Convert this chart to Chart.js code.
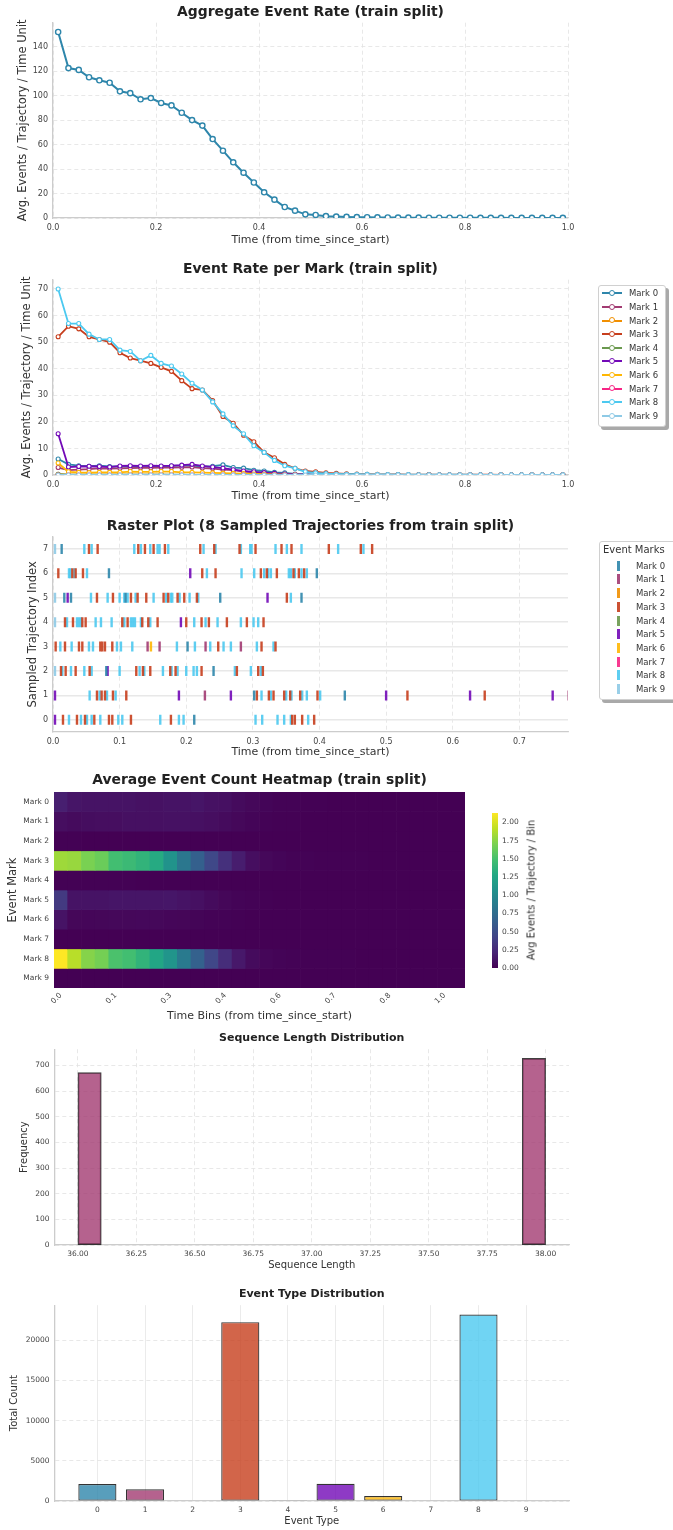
<!DOCTYPE html>
<html>
<head>
<meta charset="utf-8">
<title>Event dataset overview (train split)</title>
<script src="https://cdn.jsdelivr.net/npm/chart.js@4.4.1/dist/chart.umd.min.js"></script>
<style>
  body { margin: 0; background: #fff; }
  #page { position: relative; width: 673px; height: 1530px; overflow: hidden; font-family: "DejaVu Sans", sans-serif; color: #333; }
  #page canvas { position: absolute; left: 0; }
  .legend { position: absolute; background: #fff; border: 1px solid #d0d0d0; border-radius: 3px; box-shadow: 3px 3px 0 #a9a9a9; z-index: 2; }
  .legend .item { position: absolute; left: 0; height: 12px; width: 100%; font-size: 8.5px; line-height: 12px; white-space: nowrap; }
  .legend .ln { position: absolute; left: 3px; top: 5px; width: 20px; height: 2.2px; }
  .legend .dot { position: absolute; left: 9.8px; top: 2.9px; width: 4px; height: 4px; border: 1.2px solid; border-radius: 50%; background: #fff; }
  .legend .bar { position: absolute; left: 17px; top: 1px; width: 2.5px; height: 10px; }
  .legend .tx { position: absolute; top: 0; }
  .legend .head { position: absolute; left: 3px; top: 1px; font-size: 10px; line-height: 14px; white-space: nowrap; }
  #cbLabel { position: absolute; left: 531px; top: 890px; font-size: 10px; white-space: nowrap; transform: translate(-50%, -50%) rotate(-90deg); color: #333; }
</style>
</head>
<body>
<div id="page">
  <canvas id="aggChart" width="673" height="250" style="top:0px"></canvas>
  <canvas id="markChart" width="673" height="250" style="top:257px"></canvas>
  <div id="markLegend" class="legend" style="left:598px;top:285px;width:66px;height:140px"></div>
  <canvas id="rasterChart" width="673" height="250" style="top:514px"></canvas>
  <div id="rasterLegend" class="legend" style="left:599px;top:541px;width:80px;height:157px"></div>
  <canvas id="heatChart" width="673" height="260" style="top:768px"></canvas>
  <canvas id="cbChart" width="60" height="200" style="top:790px;left:470px"></canvas>
  <div id="cbLabel">Avg Events / Trajectory / Bin</div>
  <canvas id="lenChart" width="673" height="250" style="top:1027px"></canvas>
  <canvas id="typeChart" width="673" height="247" style="top:1283px"></canvas>
</div>
<script>
// ---- data ----
const markNames = ['Mark 0', 'Mark 1', 'Mark 2', 'Mark 3', 'Mark 4', 'Mark 5', 'Mark 6', 'Mark 7', 'Mark 8', 'Mark 9'];
const markColors = ['#2E86AB', '#A23B72', '#F18F01', '#C73E1D', '#6A994E', '#7209B7', '#FFB703', '#F72585', '#4CC9F0', '#8ECAE6'];

const timePoints = [0.01, 0.03, 0.05, 0.07, 0.09, 0.11, 0.13, 0.15, 0.17, 0.19, 0.21, 0.23, 0.25, 0.27, 0.29, 0.31, 0.33, 0.35, 0.37, 0.39,
  0.41, 0.43, 0.45, 0.47, 0.49, 0.51, 0.53, 0.55, 0.57, 0.59, 0.61, 0.63, 0.65, 0.67, 0.69, 0.71, 0.73, 0.75, 0.77, 0.79,
  0.81, 0.83, 0.85, 0.87, 0.89, 0.91, 0.93, 0.95, 0.97, 0.99];

const aggregateRate = [152, 122.5, 121, 115, 112.5, 110.5, 103.5, 102, 97, 98, 94, 92, 86, 80, 75.5, 64.5, 55, 45.5, 37, 29,
  21, 15, 9, 6, 3, 2.5, 1.5, 1.2, 0.9, 0.7, 0.6, 0.5, 0.4, 0.35, 0.3, 0.3, 0.25, 0.25, 0.2, 0.2,
  0.2, 0.15, 0.15, 0.15, 0.1, 0.1, 0.1, 0.1, 0.1, 0.1];

const rateMark0 = [6, 4, 3.5, 3.3, 3.5, 3.2, 3.2, 3.2, 3.0, 3.0, 3.2, 3.4, 3.5, 3.5, 3.2, 3.3, 3.8, 2.8, 2.6, 1.8,
  1.5, 1.0, 0.8, 0.4, 0.3, 0.15, 0.1, 0.05, 0.05, 0.05, 0.02, 0.02, 0.02, 0, 0, 0, 0, 0, 0, 0, 0, 0, 0, 0, 0, 0, 0, 0, 0, 0];
const rateMark1 = [2.8, 1.8, 2.0, 2.2, 2.5, 2.4, 2.5, 2.6, 2.7, 2.7, 2.8, 2.8, 2.9, 3.0, 2.6, 2.4, 2.0, 1.8, 1.3, 1.0,
  0.7, 0.5, 0.3, 0.2, 0.1, 0.05, 0.05, 0.02, 0.02, 0, 0, 0, 0, 0, 0, 0, 0, 0, 0, 0, 0, 0, 0, 0, 0, 0, 0, 0, 0, 0];
const rateMark2 = [0.3, 0.15, 0.1, 0.1, 0.1, 0.1, 0.1, 0.1, 0.1, 0.1, 0.1, 0.05, 0.05, 0.05, 0.05, 0.05, 0.05, 0.05, 0, 0,
  0, 0, 0, 0, 0, 0, 0, 0, 0, 0, 0, 0, 0, 0, 0, 0, 0, 0, 0, 0, 0, 0, 0, 0, 0, 0, 0, 0, 0, 0];
const rateMark3 = [52, 56, 55, 52, 51, 50, 46, 44, 43, 42, 40.5, 39, 35.5, 32.5, 32, 28, 22, 19.5, 15, 12.5,
  8.5, 6.5, 4, 2.5, 1.5, 1.2, 0.8, 0.6, 0.45, 0.35, 0.3, 0.25, 0.2, 0.2, 0.15, 0.15, 0.15, 0.1, 0.1, 0.1,
  0.1, 0.1, 0.1, 0.05, 0.05, 0.05, 0.05, 0.05, 0.05, 0.05];
const rateMark4 = [0.3, 0.15, 0.15, 0.15, 0.1, 0.1, 0.1, 0.1, 0.1, 0.1, 0.1, 0.1, 0.1, 0.05, 0.05, 0.05, 0.05, 0.05, 0.05, 0,
  0, 0, 0, 0, 0, 0, 0, 0, 0, 0, 0, 0, 0, 0, 0, 0, 0, 0, 0, 0, 0, 0, 0, 0, 0, 0, 0, 0, 0, 0];
const rateMark5 = [15.5, 3, 3.2, 3.3, 3.2, 3.0, 3.4, 3.5, 3.4, 3.5, 3.4, 3.5, 3.7, 4.0, 3.4, 3.0, 2.6, 2.0, 1.5, 1.2,
  0.9, 0.6, 0.4, 0.2, 0.1, 0.05, 0.05, 0, 0, 0, 0, 0, 0, 0, 0, 0, 0, 0, 0, 0, 0, 0, 0, 0, 0, 0, 0, 0, 0, 0];
const rateMark6 = [4.5, 1.2, 1.0, 0.9, 1.0, 1.0, 1.0, 1.3, 1.2, 1.2, 1.3, 1.3, 1.0, 1.0, 0.9, 0.8, 0.7, 0.6, 0.5, 0.4,
  0.3, 0.2, 0.1, 0.05, 0.02, 0, 0, 0, 0, 0, 0, 0, 0, 0, 0, 0, 0, 0, 0, 0, 0, 0, 0, 0, 0, 0, 0, 0, 0, 0];
const rateMark7 = [0, 0, 0, 0, 0, 0, 0, 0, 0, 0, 0, 0, 0, 0, 0, 0, 0, 0, 0, 0, 0, 0, 0, 0, 0,
  0, 0, 0, 0, 0, 0, 0, 0, 0, 0, 0, 0, 0, 0, 0, 0, 0, 0, 0, 0, 0, 0, 0, 0, 0];
const rateMark8 = [70, 57, 57, 53, 51, 51, 47, 46.5, 43, 45, 42, 41, 38, 34.5, 32, 27.5, 23, 18.5, 15.5, 11,
  8.5, 5.5, 3.5, 2.5, 1.2, 0.8, 0.5, 0.4, 0.3, 0.3, 0.25, 0.2, 0.2, 0.15, 0.15, 0.1, 0.1, 0.1, 0.1, 0.1,
  0.1, 0.05, 0.05, 0.05, 0.05, 0.05, 0.05, 0.05, 0.05, 0.05];
const rateMark9 = [0, 0, 0, 0, 0, 0, 0, 0, 0, 0, 0, 0, 0, 0, 0, 0, 0, 0, 0, 0, 0, 0, 0, 0, 0,
  0, 0, 0, 0, 0, 0, 0, 0, 0, 0, 0, 0, 0, 0, 0, 0, 0, 0, 0, 0, 0, 0, 0, 0, 0];

// raster: [time, mark] per sampled trajectory
const traj0 = [[0.003, 5], [0.015, 3], [0.024, 8], [0.036, 3], [0.042, 8], [0.048, 3], [0.051, 8], [0.058, 8], [0.062, 3], [0.071, 8],
  [0.084, 3], [0.089, 3], [0.098, 8], [0.104, 8], [0.117, 3], [0.161, 8], [0.177, 3], [0.189, 8], [0.196, 8], [0.212, 0],
  [0.304, 8], [0.314, 8], [0.337, 8], [0.347, 8], [0.357, 8], [0.359, 3], [0.363, 3], [0.374, 3], [0.383, 8], [0.392, 3]];
const traj1 = [[0.003, 5], [0.055, 8], [0.066, 3], [0.070, 8], [0.073, 3], [0.078, 3], [0.081, 8], [0.090, 3], [0.094, 8], [0.110, 3],
  [0.189, 5], [0.228, 1], [0.267, 5], [0.302, 0], [0.306, 3], [0.313, 8], [0.324, 3], [0.327, 8], [0.331, 3], [0.347, 3],
  [0.350, 8], [0.356, 3], [0.358, 8], [0.371, 3], [0.374, 8], [0.381, 8], [0.397, 3], [0.401, 8], [0.438, 0], [0.500, 5],
  [0.532, 3], [0.626, 5], [0.648, 3], [0.750, 5], [0.774, 1]];
const traj2 = [[0.003, 9], [0.012, 3], [0.014, 8], [0.019, 3], [0.027, 8], [0.034, 3], [0.047, 8], [0.055, 3], [0.058, 8], [0.080, 0],
  [0.082, 5], [0.100, 8], [0.125, 3], [0.130, 8], [0.135, 3], [0.137, 8], [0.146, 3], [0.165, 8], [0.176, 3], [0.178, 8],
  [0.184, 3], [0.187, 8], [0.200, 8], [0.211, 8], [0.216, 8], [0.223, 3], [0.241, 0], [0.273, 8], [0.276, 3], [0.297, 8],
  [0.308, 3], [0.312, 8], [0.315, 3]];
const traj3 = [[0.004, 3], [0.011, 8], [0.018, 3], [0.028, 8], [0.039, 3], [0.044, 3], [0.054, 8], [0.060, 8], [0.071, 3], [0.074, 3],
  [0.078, 3], [0.089, 3], [0.096, 8], [0.102, 8], [0.119, 8], [0.142, 1], [0.147, 6], [0.160, 1], [0.186, 8], [0.202, 0],
  [0.213, 8], [0.229, 1], [0.236, 8], [0.248, 3], [0.256, 8], [0.267, 8], [0.282, 1], [0.306, 8], [0.313, 3], [0.331, 8],
  [0.334, 3]];
const traj4 = [[0.003, 9], [0.018, 3], [0.021, 8], [0.030, 3], [0.036, 8], [0.039, 8], [0.042, 8], [0.044, 3], [0.049, 3], [0.064, 8],
  [0.072, 8], [0.088, 8], [0.104, 3], [0.107, 8], [0.112, 3], [0.117, 8], [0.120, 8], [0.123, 8], [0.132, 8], [0.134, 3],
  [0.143, 3], [0.146, 8], [0.157, 3], [0.192, 5], [0.200, 3], [0.212, 8], [0.223, 3], [0.229, 8], [0.234, 3], [0.247, 8],
  [0.261, 3], [0.282, 8], [0.291, 3], [0.301, 8], [0.308, 8], [0.316, 3]];
const traj5 = [[0.003, 9], [0.017, 0], [0.022, 5], [0.027, 0], [0.057, 8], [0.066, 3], [0.082, 8], [0.090, 3], [0.100, 8], [0.107, 8],
  [0.109, 0], [0.112, 8], [0.117, 3], [0.124, 8], [0.127, 3], [0.140, 3], [0.151, 8], [0.166, 3], [0.170, 8], [0.173, 3],
  [0.177, 8], [0.179, 8], [0.187, 3], [0.190, 8], [0.197, 3], [0.205, 8], [0.216, 3], [0.218, 8], [0.251, 0], [0.322, 5],
  [0.351, 3], [0.357, 8], [0.373, 0]];
const traj6 = [[0.008, 3], [0.024, 8], [0.026, 8], [0.029, 3], [0.032, 8], [0.034, 3], [0.045, 3], [0.051, 8], [0.084, 0], [0.206, 5],
  [0.224, 3], [0.231, 8], [0.244, 3], [0.283, 8], [0.302, 8], [0.312, 3], [0.317, 8], [0.321, 3], [0.323, 8], [0.327, 8],
  [0.336, 3], [0.354, 8], [0.357, 8], [0.361, 3], [0.363, 8], [0.369, 3], [0.373, 8], [0.377, 3], [0.381, 8], [0.396, 0]];
const traj7 = [[0.003, 9], [0.013, 0], [0.047, 8], [0.054, 3], [0.058, 8], [0.067, 3], [0.122, 8], [0.128, 3], [0.132, 8], [0.138, 3],
  [0.146, 8], [0.151, 3], [0.157, 8], [0.160, 8], [0.168, 3], [0.173, 8], [0.221, 3], [0.226, 8], [0.242, 3], [0.244, 8],
  [0.280, 3], [0.282, 8], [0.296, 8], [0.298, 8], [0.304, 3], [0.334, 8], [0.343, 3], [0.351, 8], [0.358, 3], [0.373, 8],
  [0.414, 3], [0.428, 8], [0.462, 3], [0.466, 8], [0.479, 3]];

// heatmap: avg events per trajectory per bin (30 time bins)
const heat0 = [0.18, 0.12, 0.11, 0.11, 0.11, 0.11, 0.10, 0.10, 0.11, 0.11, 0.12, 0.10, 0.09, 0.06, 0.04, 0.025, 0.015, 0.01, 0.005, 0.004,
  0.003, 0.002, 0.002, 0.001, 0.001, 0.001, 0, 0, 0, 0];
const heat1 = [0.08, 0.06, 0.07, 0.08, 0.08, 0.09, 0.09, 0.09, 0.10, 0.10, 0.09, 0.08, 0.06, 0.04, 0.025, 0.015, 0.008, 0.005, 0.003, 0.002,
  0.001, 0.001, 0, 0, 0, 0, 0, 0, 0, 0];
const heat2 = [0.008, 0.004, 0.003, 0.003, 0.003, 0.003, 0.002, 0.002, 0.002, 0.002, 0.002, 0.001, 0.001, 0, 0, 0, 0, 0, 0, 0,
  0, 0, 0, 0, 0, 0, 0, 0, 0, 0];
const heat3 = [1.82, 1.80, 1.70, 1.64, 1.48, 1.44, 1.38, 1.30, 1.08, 0.84, 0.65, 0.46, 0.29, 0.17, 0.08, 0.04, 0.025, 0.015, 0.01, 0.008,
  0.006, 0.005, 0.004, 0.003, 0.003, 0.002, 0.002, 0.002, 0.001, 0.001];
const heat4 = [0.008, 0.005, 0.004, 0.004, 0.004, 0.004, 0.003, 0.003, 0.003, 0.003, 0.002, 0.002, 0.001, 0.001, 0, 0, 0, 0, 0, 0,
  0, 0, 0, 0, 0, 0, 0, 0, 0, 0];
const heat5 = [0.36, 0.11, 0.11, 0.11, 0.12, 0.12, 0.12, 0.12, 0.13, 0.11, 0.09, 0.06, 0.035, 0.02, 0.01, 0.005, 0.003, 0.002, 0.001, 0,
  0, 0, 0, 0, 0, 0, 0, 0, 0, 0];
const heat6 = [0.11, 0.035, 0.032, 0.035, 0.04, 0.04, 0.042, 0.04, 0.033, 0.028, 0.022, 0.015, 0.01, 0.006, 0.003, 0.002, 0.001, 0, 0, 0,
  0, 0, 0, 0, 0, 0, 0, 0, 0, 0];
const heat7 = [0, 0, 0, 0, 0, 0, 0, 0, 0, 0, 0, 0, 0, 0, 0, 0, 0, 0, 0, 0, 0, 0, 0, 0, 0, 0, 0, 0, 0, 0];
const heat8 = [2.13, 1.90, 1.74, 1.68, 1.52, 1.48, 1.38, 1.26, 1.10, 0.87, 0.66, 0.45, 0.27, 0.14, 0.06, 0.03, 0.02, 0.012, 0.008, 0.006,
  0.005, 0.004, 0.003, 0.003, 0.002, 0.002, 0.002, 0.002, 0.001, 0.001];
const heat9 = [0, 0, 0, 0, 0, 0, 0, 0, 0, 0, 0, 0, 0, 0, 0, 0, 0, 0, 0, 0, 0, 0, 0, 0, 0, 0, 0, 0, 0, 0];
const heatTickLabels = ['0.0', '0.1', '0.3', '0.4', '0.6', '0.7', '0.8', '1.0'];   // every 4th bin

// sequence length histogram (20 bins of 0.1 between 36 and 38)
const lengthBinEdges = [36.0, 36.1, 36.2, 36.3, 36.4, 36.5, 36.6, 36.7, 36.8, 36.9, 37.0, 37.1, 37.2, 37.3, 37.4, 37.5, 37.6, 37.7, 37.8, 37.9];
const lengthCounts = [672, 0, 0, 0, 0, 0, 0, 0, 0, 0, 0, 0, 0, 0, 0, 0, 0, 0, 0, 727];
const lengthBinWidth = 0.1;

// event type totals
const eventTypes = [0, 1, 2, 3, 4, 5, 6, 7, 8, 9];
const eventCounts = [2100, 1450, 60, 22250, 100, 2150, 630, 0, 23200, 0];

// ---- helpers ----
Chart.defaults.font.family = '"DejaVu Sans", sans-serif';
Chart.defaults.color = '#444';
Chart.defaults.animation = false;
Chart.defaults.responsive = false;
Chart.defaults.events = [];
Chart.defaults.plugins.legend.display = false;
Chart.defaults.plugins.tooltip.enabled = false;

const GRID = '#e2e2e2', SPINE = '#cccccc';

function alpha(hex, a) {
  const n = parseInt(hex.slice(1), 16);
  return `rgba(${n >> 16},${(n >> 8) & 255},${n & 255},${a})`;
}

const viridisStops = ['#440154', '#482475', '#414487', '#355f8d', '#2a788e', '#21918c', '#22a884', '#44bf70', '#7ad151', '#bddf26', '#fde725'];
function viridis(f) {
  f = Math.max(0, Math.min(1, f));
  const p = f * 10, i = Math.min(9, Math.floor(p)), t = p - i;
  const a = parseInt(viridisStops[i].slice(1), 16), b = parseInt(viridisStops[i + 1].slice(1), 16);
  const mix = s => Math.round(((a >> s) & 255) * (1 - t) + ((b >> s) & 255) * t);
  return `rgb(${mix(16)},${mix(8)},${mix(0)})`;
}

function titleCfg(text, size, pad) {
  return { display: true, text, fullSize: false, color: '#222', font: { size, weight: 'bold' }, padding: pad || { top: 4, bottom: 2 } };
}

// ticks every `step` inside [min, max], like matplotlib's locator
function stepTicks(min, max, step) {
  return s => {
    const out = [];
    for (let v = Math.ceil(min / step - 1e-9) * step; v <= max + 1e-9; v += step) out.push({ value: +v.toFixed(6) });
    s.ticks = out;
  };
}

function linAxis(o) {
  const ax = {
    type: 'linear', min: o.min, max: o.max, offset: false,
    grid: { display: o.grid !== false, color: o.gridColor || GRID, lineWidth: o.gridWidth || 0.8, drawTicks: false, offset: false },
    border: { display: true, color: SPINE, width: 1.3, dash: o.dash || [4, 3] },
    afterBuildTicks: stepTicks(o.min, o.max, o.step),
    ticks: { padding: o.tickPad || 5, font: { size: o.tickFont || 8 }, color: '#444', callback: o.fmt || (v => String(v)) },
    title: { display: true, text: o.title, color: '#333', font: { size: o.titleFont || 11 }, padding: o.titlePad || 4 },
    afterFit: o.fit
  };
  return ax;
}

// 1. aggregate rate
new Chart(document.getElementById('aggChart'), {
  type: 'line',
  data: {
    datasets: [{
      data: timePoints.map((t, i) => ({ x: t, y: aggregateRate[i] })),
      borderColor: '#2E86AB', borderWidth: 2,
      pointRadius: 2.6, pointBackgroundColor: '#fff', pointBorderColor: '#2E86AB', pointBorderWidth: 1.4
    }]
  },
  options: {
    layout: { padding: { left: 10, right: 105, top: 0, bottom: 0 } },
    plugins: { title: titleCfg('Aggregate Event Rate (train split)', 13.9) },
    scales: {
      x: linAxis({ min: 0, max: 1, step: 0.2, fmt: v => v.toFixed(1), title: 'Time (from time_since_start)',
        titlePad: { top: 0, bottom: 3.4 }, fit: s => { s.height = 32; } }),
      y: linAxis({ min: 0, max: 159.6, step: 20, title: 'Avg. Events / Trajectory / Time Unit', titleFont: 11.5,
        titlePad: { top: 6, bottom: 0 }, fit: s => { s.width = 43; } })
    }
  }
});

// 2. rate per mark
const markRates = [rateMark0, rateMark1, rateMark2, rateMark3, rateMark4, rateMark5, rateMark6, rateMark7, rateMark8, rateMark9];
new Chart(document.getElementById('markChart'), {
  type: 'line',
  data: {
    datasets: markRates.map((rates, m) => ({
      label: markNames[m],
      data: timePoints.map((t, i) => ({ x: t, y: rates[i] })),
      order: markNames.length - 1 - m,
      borderColor: markColors[m], borderWidth: 1.8,
      pointRadius: 2, pointBackgroundColor: '#fff', pointBorderColor: markColors[m], pointBorderWidth: 1.1
    }))
  },
  options: {
    layout: { padding: { left: 14, right: 105, top: 0, bottom: 0 } },
    plugins: { title: titleCfg('Event Rate per Mark (train split)', 13.9) },
    scales: {
      x: linAxis({ min: 0, max: 1, step: 0.2, fmt: v => v.toFixed(1), title: 'Time (from time_since_start)',
        titlePad: { top: 0, bottom: 4.4 }, fit: s => { s.height = 32; } }),
      y: linAxis({ min: 0, max: 73.5, step: 10, title: 'Avg. Events / Trajectory / Time Unit', titleFont: 11.5,
        titlePad: { top: 6, bottom: 0 }, fit: s => { s.width = 39; } })
    }
  }
});

const markLegend = document.getElementById('markLegend');
markNames.forEach((name, i) => {
  const it = document.createElement('div');
  it.className = 'item';
  it.style.top = (1.3 + i * 13.6) + 'px';
  it.innerHTML = `<span class="ln" style="background:${markColors[i]}"></span>` +
    `<span class="dot" style="border-color:${markColors[i]}"></span><span class="tx" style="left:30px">${name}</span>`;
  markLegend.appendChild(it);
});

// 3. raster
const trajectories = [traj0, traj1, traj2, traj3, traj4, traj5, traj6, traj7];
new Chart(document.getElementById('rasterChart'), {
  type: 'scatter',
  data: {
    datasets: markNames.map((name, m) => ({
      label: name,
      data: trajectories.flatMap((tr, row) => tr.filter(e => e[1] === m).map(e => ({ x: e[0], y: row }))),
      pointStyle: 'line', pointRotation: 90, pointRadius: 5,
      pointBorderWidth: 2.4, pointBorderColor: alpha(markColors[m], 0.9)
    }))
  },
  options: {
    layout: { padding: { left: 20, right: 105, top: 0, bottom: 0 } },
    plugins: { title: titleCfg('Raster Plot (8 Sampled Trajectories from train split)', 13.9) },
    scales: {
      x: linAxis({ min: 0, max: 0.773, step: 0.1, fmt: v => v.toFixed(1), title: 'Time (from time_since_start)',
        titlePad: { top: 0, bottom: 5 }, fit: s => { s.height = 32; } }),
      y: linAxis({ min: -0.5, max: 7.5, step: 1, dash: [], gridColor: '#e8e8e8', gridWidth: 1.4, title: 'Sampled Trajectory Index',
        titleFont: 11.5, titlePad: { top: 6, bottom: 0 }, fit: s => { s.width = 33; } })
    }
  }
});

const rasterLegend = document.getElementById('rasterLegend');
rasterLegend.innerHTML = '<div class="head">Event Marks</div>';
markNames.forEach((name, i) => {
  const it = document.createElement('div');
  it.className = 'item';
  it.style.top = (17.7 + i * 13.7) + 'px';
  it.innerHTML = `<span class="bar" style="background:${alpha(markColors[i], 0.9)}"></span><span class="tx" style="left:36px">${name}</span>`;
  rasterLegend.appendChild(it);
});

// 4. heatmap
const heatRows = [heat0, heat1, heat2, heat3, heat4, heat5, heat6, heat7, heat8, heat9];
const heatMax = Math.max(...heatRows.flat());
new Chart(document.getElementById('heatChart'), {
  type: 'bar',
  data: {
    labels: heat0.map((_, i) => i),
    datasets: heatRows.map((row, m) => ({
      label: markNames[m],
      data: row.map(() => 1),
      backgroundColor: row.map(v => viridis(v / heatMax)),
      borderWidth: 0, barPercentage: 1, categoryPercentage: 1
    }))
  },
  options: {
    layout: { padding: { left: 2, right: 208, top: 0, bottom: 0 } },
    plugins: { title: titleCfg('Average Event Count Heatmap (train split)', 13.9, { top: 4, bottom: 3.3 }) },
    scales: {
      x: {
        stacked: true, grid: { display: false, drawTicks: false }, border: { display: false },
        ticks: { autoSkip: false, maxRotation: 45, minRotation: 45, padding: 3, font: { size: 7.5 }, color: '#444',
          callback: (v, i) => (i % 4 === 0 ? heatTickLabels[i / 4] : '') },
        title: { display: true, text: 'Time Bins (from time_since_start)', color: '#333', font: { size: 11 }, padding: { top: 0, bottom: 5.4 } },
        afterFit: s => { s.height = 40; }
      },
      y: {
        type: 'linear', stacked: true, reverse: true, min: 0, max: 10,
        grid: { display: false, drawTicks: false }, border: { display: false },
        afterBuildTicks: s => { s.ticks = markNames.map((_, i) => ({ value: i + 0.5 })); },
        ticks: { padding: 5, font: { size: 7.5 }, color: '#444', callback: v => markNames[Math.floor(v)] },
        title: { display: true, text: 'Event Mark', color: '#333', font: { size: 11.5 }, padding: { top: 4.4, bottom: 0 } },
        afterFit: s => { s.width = 52; }
      }
    }
  }
});

// colorbar
new Chart(document.getElementById('cbChart'), {
  type: 'bar',
  data: {
    labels: [''],
    datasets: [{
      data: [heatMax], borderWidth: 0, barPercentage: 1, categoryPercentage: 1,
      backgroundColor: c => {
        const a = c.chart.chartArea;
        if (!a) return viridisStops[5];
        const g = c.chart.ctx.createLinearGradient(0, a.bottom, 0, a.top);
        viridisStops.forEach((col, k) => g.addColorStop(k / 10, col));
        return g;
      }
    }]
  },
  options: {
    layout: { padding: { left: 22, right: 0, top: 23, bottom: 22 } },
    scales: {
      x: { display: false },
      y: {
        position: 'right', min: 0, max: heatMax, grid: { display: false, drawTicks: false }, border: { display: false },
        afterBuildTicks: stepTicks(0, heatMax, 0.25),
        ticks: { padding: 4, font: { size: 7.5 }, color: '#444', callback: v => v.toFixed(2) },
        afterFit: s => { s.width = 32; }
      }
    }
  }
});

// 5. sequence length histogram
new Chart(document.getElementById('lenChart'), {
  type: 'bar',
  data: {
    datasets: [{
      data: lengthBinEdges.map((e, i) => ({ x: e + lengthBinWidth / 2, y: lengthCounts[i] })),
      backgroundColor: alpha('#A23B72', 0.8), borderColor: 'rgba(0,0,0,0.75)', borderWidth: 1.2, borderSkipped: false,
      barPercentage: 1, categoryPercentage: 1
    }]
  },
  options: {
    layout: { padding: { left: 14, right: 104, top: 0, bottom: 0 } },
    plugins: { title: titleCfg('Sequence Length Distribution', 11, { top: 5, bottom: 4 }) },
    scales: {
      x: linAxis({ min: 35.9, max: 38.1, step: 0.25, fmt: v => v.toFixed(2), tickFont: 7.5, title: 'Sequence Length', titleFont: 10,
        titlePad: { top: 0, bottom: 6 }, fit: s => { s.height = 32; } }),
      y: linAxis({ min: 0, max: 763, step: 100, tickFont: 7.5, title: 'Frequency', titleFont: 10,
        titlePad: { top: 4, bottom: 0 }, fit: s => { s.width = 40.5; } })
    }
  }
});

// 6. event type distribution
new Chart(document.getElementById('typeChart'), {
  type: 'bar',
  data: {
    datasets: [{
      data: eventTypes.map((t, i) => ({ x: t, y: eventCounts[i] })),
      backgroundColor: eventTypes.map(t => alpha(markColors[t], 0.8)),
      borderColor: 'rgba(0,0,0,0.8)', borderWidth: 1.2, borderSkipped: false,
      barPercentage: 1, categoryPercentage: 0.8
    }]
  },
  options: {
    layout: { padding: { left: 4, right: 104, top: 0, bottom: 0 } },
    plugins: { title: titleCfg('Event Type Distribution', 11, { top: 5, bottom: 4 }) },
    scales: {
      x: linAxis({ min: -0.9, max: 9.9, step: 1, dash: [], gridColor: '#ebebeb', gridWidth: 1, tickFont: 7.5,
        title: 'Event Type', titleFont: 10, titlePad: { top: 0, bottom: 3 }, fit: s => { s.height = 29; } }),
      y: linAxis({ min: 0, max: 24360, step: 5000, tickFont: 7.5, title: 'Total Count', titleFont: 10,
        titlePad: { top: 4, bottom: 0 }, fit: s => { s.width = 50.5; } })
    }
  }
});
</script>
</body>
</html>
